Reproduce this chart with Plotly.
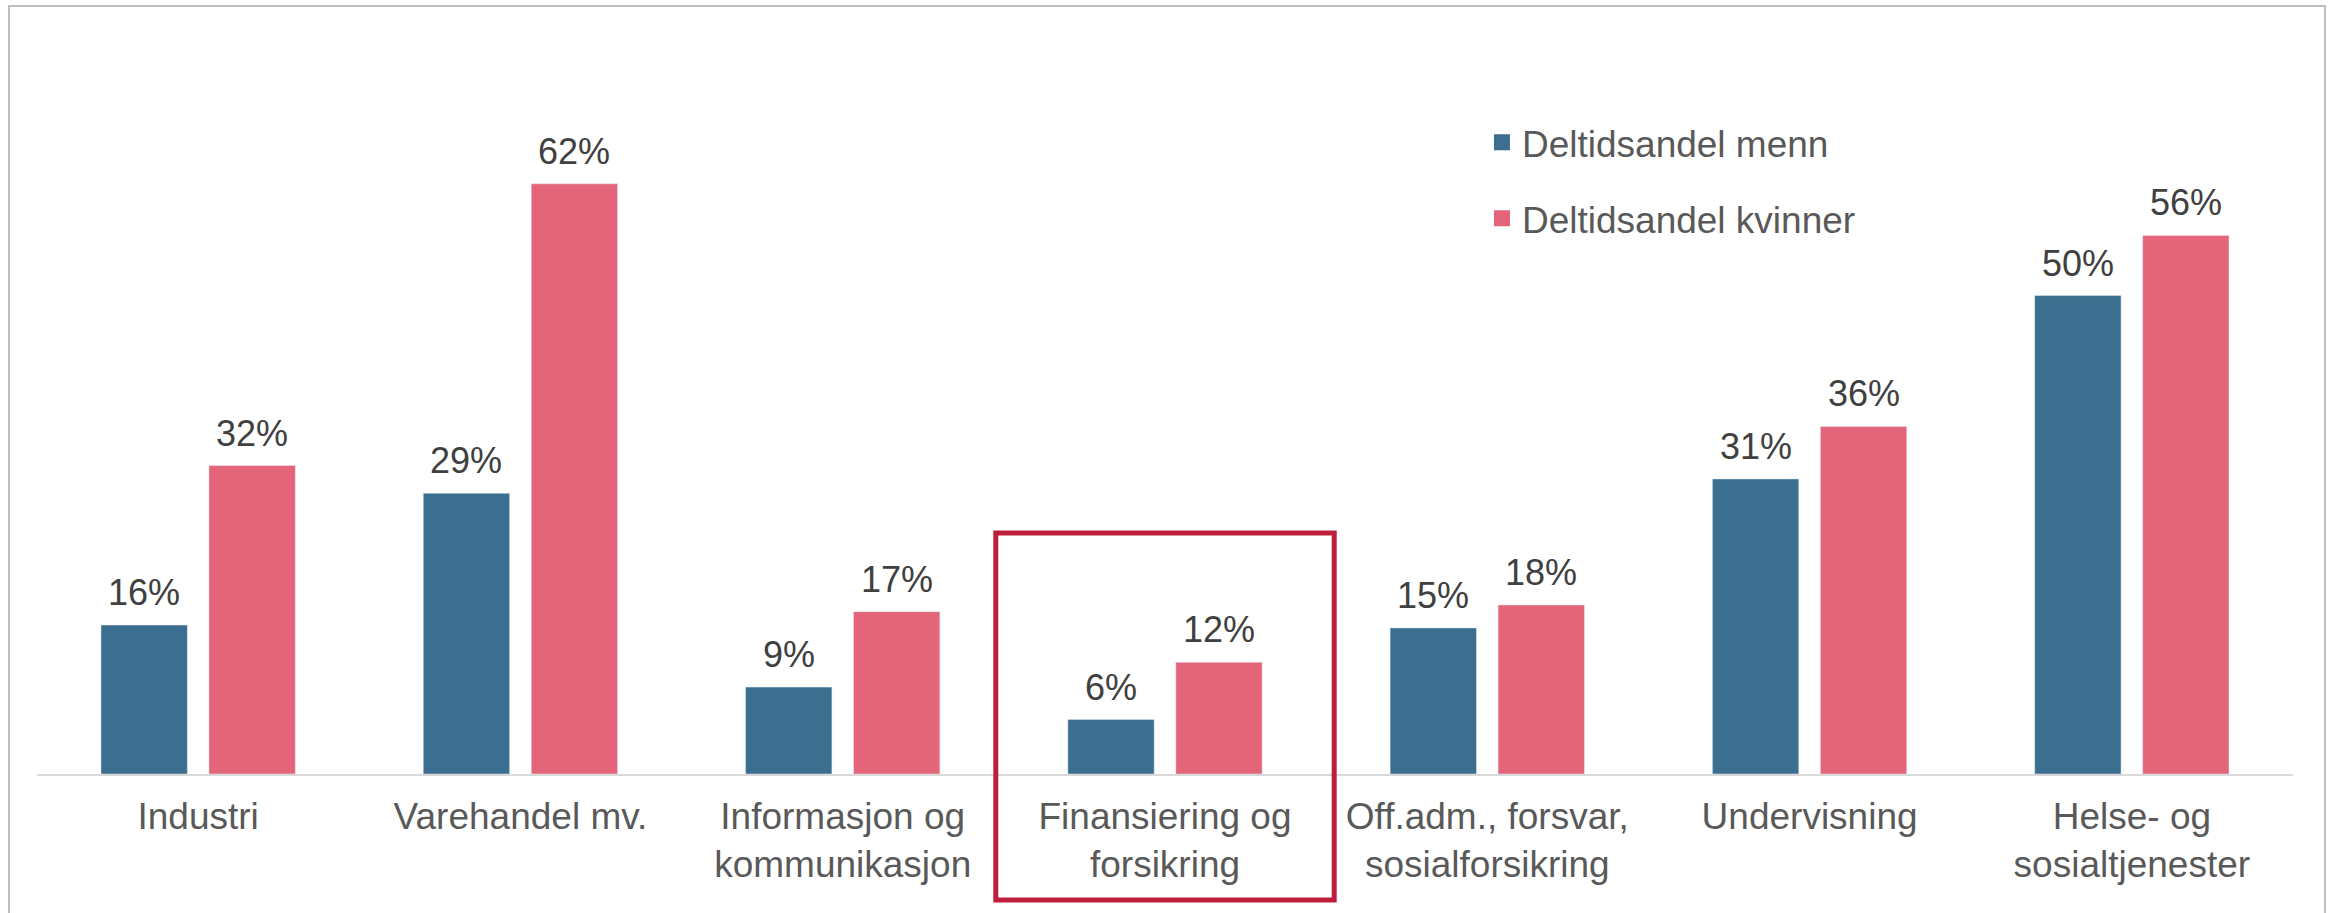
import plotly.graph_objects as go

categories = [
    "Industri",
    "Varehandel mv.",
    "Informasjon og<br>kommunikasjon",
    "Finansiering og<br>forsikring",
    "Off.adm., forsvar,<br>sosialforsikring",
    "Undervisning",
    "Helse- og<br>sosialtjenester",
]
menn = [15.6, 29.4, 9.1, 5.7, 15.3, 30.9, 50.1]
kvinner = [32.3, 61.8, 17.0, 11.7, 17.7, 36.4, 56.4]
series_names = ["Deltidsandel menn", "Deltidsandel kvinner"]

BLUE = "#3B6E8F"
PINK = "#E4657A"
FONT = "Liberation Sans, Arial, sans-serif"

W, H = 2338, 913
ML, MR, MT, MB = 37, 45, 29, 139
PX_PER_PCT = 9.55
plot_h = H - MT - MB
pw = W - ML - MR
ymax = plot_h / PX_PER_PCT


def py(p):
    """pixel row -> paper y"""
    return (H - MB - p) / plot_h


def px(p):
    """pixel column -> paper x"""
    return (p - ML) / pw


fig = go.Figure()
fig.add_trace(go.Bar(x=categories, y=menn, name=series_names[0], marker_color=BLUE,
                     showlegend=False, hoverinfo="skip"))
fig.add_trace(go.Bar(x=categories, y=kvinner, name=series_names[1], marker_color=PINK,
                     showlegend=False, hoverinfo="skip"))
# legend entries (larger square swatches)
for nm, col, grp in ((series_names[0], BLUE, "a"), (series_names[1], PINK, "b")):
    fig.add_trace(go.Scatter(x=[None], y=[None], mode="markers", name=nm,
                             legendgroup=grp,
                             marker=dict(symbol="square", size=16, color=col)))

# data labels
slot_px = pw / len(categories) * (1 - 0.33) / 2
for vals, sh in ((menn, -slot_px / 2), (kvinner, slot_px / 2)):
    for c, v in zip(categories, vals):
        fig.add_annotation(x=c, y=v, text=f"{v:.0f}%", showarrow=False,
                           xref="x", yref="y", yanchor="bottom", xanchor="center",
                           xshift=sh, yshift=10,
                           font=dict(family=FONT, size=36, color="#404040"))

# highlight box around Finansiering og forsikring
fi = categories.index("Finansiering og<br>forsikring")
fig.add_shape(type="rect", xref="x", yref="paper",
              x0=fi - 0.525, x1=fi + 0.525, y0=py(900), y1=py(533),
              line=dict(color="#BE1E3C", width=5), fillcolor="rgba(0,0,0,0)",
              layer="above")

# outer border
fig.add_shape(type="rect", xref="paper", yref="paper",
              x0=px(9), x1=px(2325), y0=py(940), y1=py(6),
              line=dict(color="#BFBFBF", width=2), fillcolor="rgba(0,0,0,0)")

fig.update_layout(
    width=W, height=H, autosize=False,
    margin=dict(l=ML, r=MR, t=MT, b=MB, pad=0),
    paper_bgcolor="white", plot_bgcolor="white",
    barmode="group", bargap=0.33, bargroupgap=0.2,
    font=dict(family=FONT, size=37, color="#595959"),
    showlegend=True,
    legend=dict(x=0.6405, y=0.889, xanchor="left", yanchor="top",
                traceorder="grouped", tracegroupgap=25,
                font=dict(family=FONT, size=37, color="#595959"),
                bgcolor="rgba(0,0,0,0)"),
    xaxis=dict(showline=True, linecolor="#D9D9D9", linewidth=1.5,
               ticks="", showgrid=False, zeroline=False, ticklabelstandoff=9,
               tickfont=dict(family=FONT, size=37, color="#595959")),
    yaxis=dict(range=[0, ymax], visible=False, showgrid=False, zeroline=False),
)

fig.write_html("out.html", post_script="document.body.style.margin='0';",
               config={"displayModeBar": False})
